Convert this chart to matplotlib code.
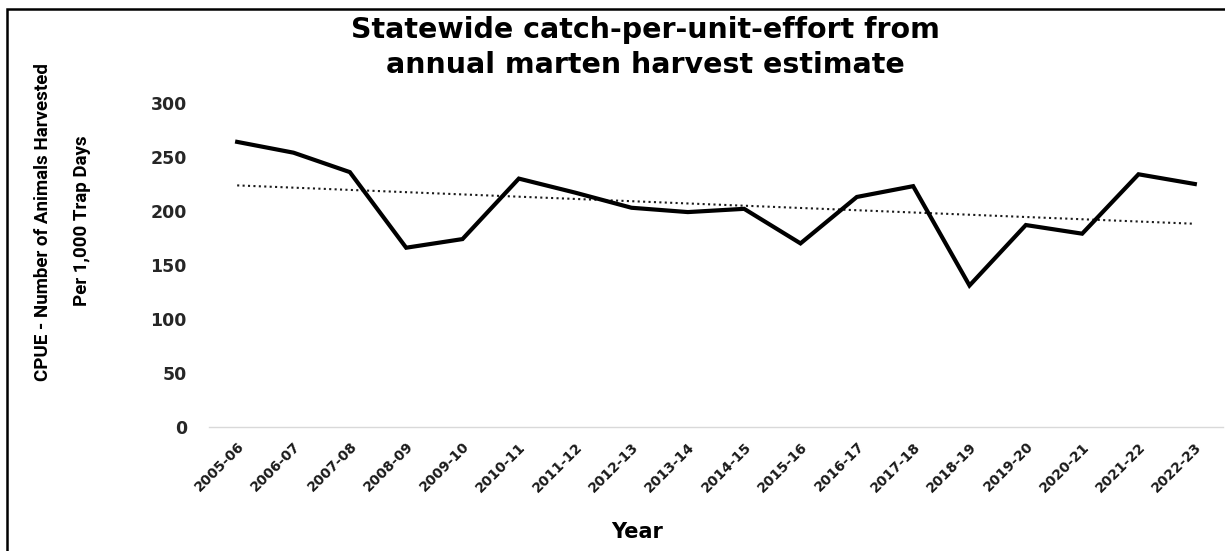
import matplotlib.pyplot as plt
import numpy as np
from matplotlib.patches import Rectangle

seasons = ['2005-06', '2006-07', '2007-08', '2008-09', '2009-10', '2010-11',
           '2011-12', '2012-13', '2013-14', '2014-15', '2015-16', '2016-17',
           '2017-18', '2018-19', '2019-20', '2020-21', '2021-22', '2022-23']
cpue = [264, 254, 236, 166, 174, 230, 217, 203, 199, 202, 170, 213,
        223, 131, 187, 179, 234, 225]
y_ticks = [0, 50, 100, 150, 200, 250, 300]

W, H = 1225, 551
fig = plt.figure(figsize=(W / 100, H / 100), dpi=100)

# plot area in pixel terms: x 209..1223, y 103..427
ax = fig.add_axes([209 / W, (H - 427) / H, (1223 - 209) / W, (427 - 103) / H])

x = np.arange(len(seasons))
ax.plot(x, cpue, color='black', lw=3, solid_joinstyle='miter', zorder=3)

# linear trendline like Excel's
slope, intercept = np.polyfit(x, cpue, 1)
ax.plot(x, slope * x + intercept, color='#1a1a1a', lw=1.5,
        linestyle=(0, (1, 1.6)), zorder=2)

ax.set_xlim(-0.5, len(seasons) - 0.5)
ax.set_ylim(0, 300)
ax.set_yticks(y_ticks)
ax.set_yticklabels([str(v) for v in y_ticks], fontsize=12.5, fontweight='bold',
                   color='#262626', family='DejaVu Sans')
ax.set_xticks(x)
ax.set_xticklabels(seasons, rotation=45, ha='right', rotation_mode='anchor',
                   fontsize=10, fontweight='bold', color='#1a1a1a',
                   family='DejaVu Sans')
ax.tick_params(axis='both', length=0)
ax.tick_params(axis='y', pad=16)
ax.tick_params(axis='x', pad=9)

for side in ['top', 'right', 'left']:
    ax.spines[side].set_visible(False)
ax.spines['bottom'].set_color('#d9d9d9')
ax.spines['bottom'].set_linewidth(1)

fig.text(645 / W, 1 - 30 / H, 'Statewide catch-per-unit-effort from',
         ha='center', va='center', fontsize=20.5, fontweight='bold',
         family='DejaVu Sans')
fig.text(645 / W, 1 - 65 / H, 'annual marten harvest estimate',
         ha='center', va='center', fontsize=20.5, fontweight='bold',
         family='DejaVu Sans')

fig.text(43 / W, 1 - 222 / H, 'CPUE - Number of Animals Harvested',
         rotation=90, ha='center', va='center', fontsize=13.5,
         fontweight='bold', family=['Roboto', 'DejaVu Sans'])
fig.text(82 / W, 1 - 221 / H, 'Per 1,000 Trap Days',
         rotation=90, ha='center', va='center', fontsize=13.5,
         fontweight='bold', family=['Roboto', 'DejaVu Sans'])

fig.text(637 / W, 1 - 532 / H, 'Year', ha='center', va='center',
         fontsize=15, fontweight='bold', family='DejaVu Sans')

# outer frame (only top and left edges show in the reference)
fig.patches.append(Rectangle((7 / W, -0.1), 1.2, (H - 9) / H + 0.1,
                             transform=fig.transFigure, fill=False,
                             edgecolor='black', lw=1.8, zorder=0))

fig.savefig('out.png', dpi=100)
